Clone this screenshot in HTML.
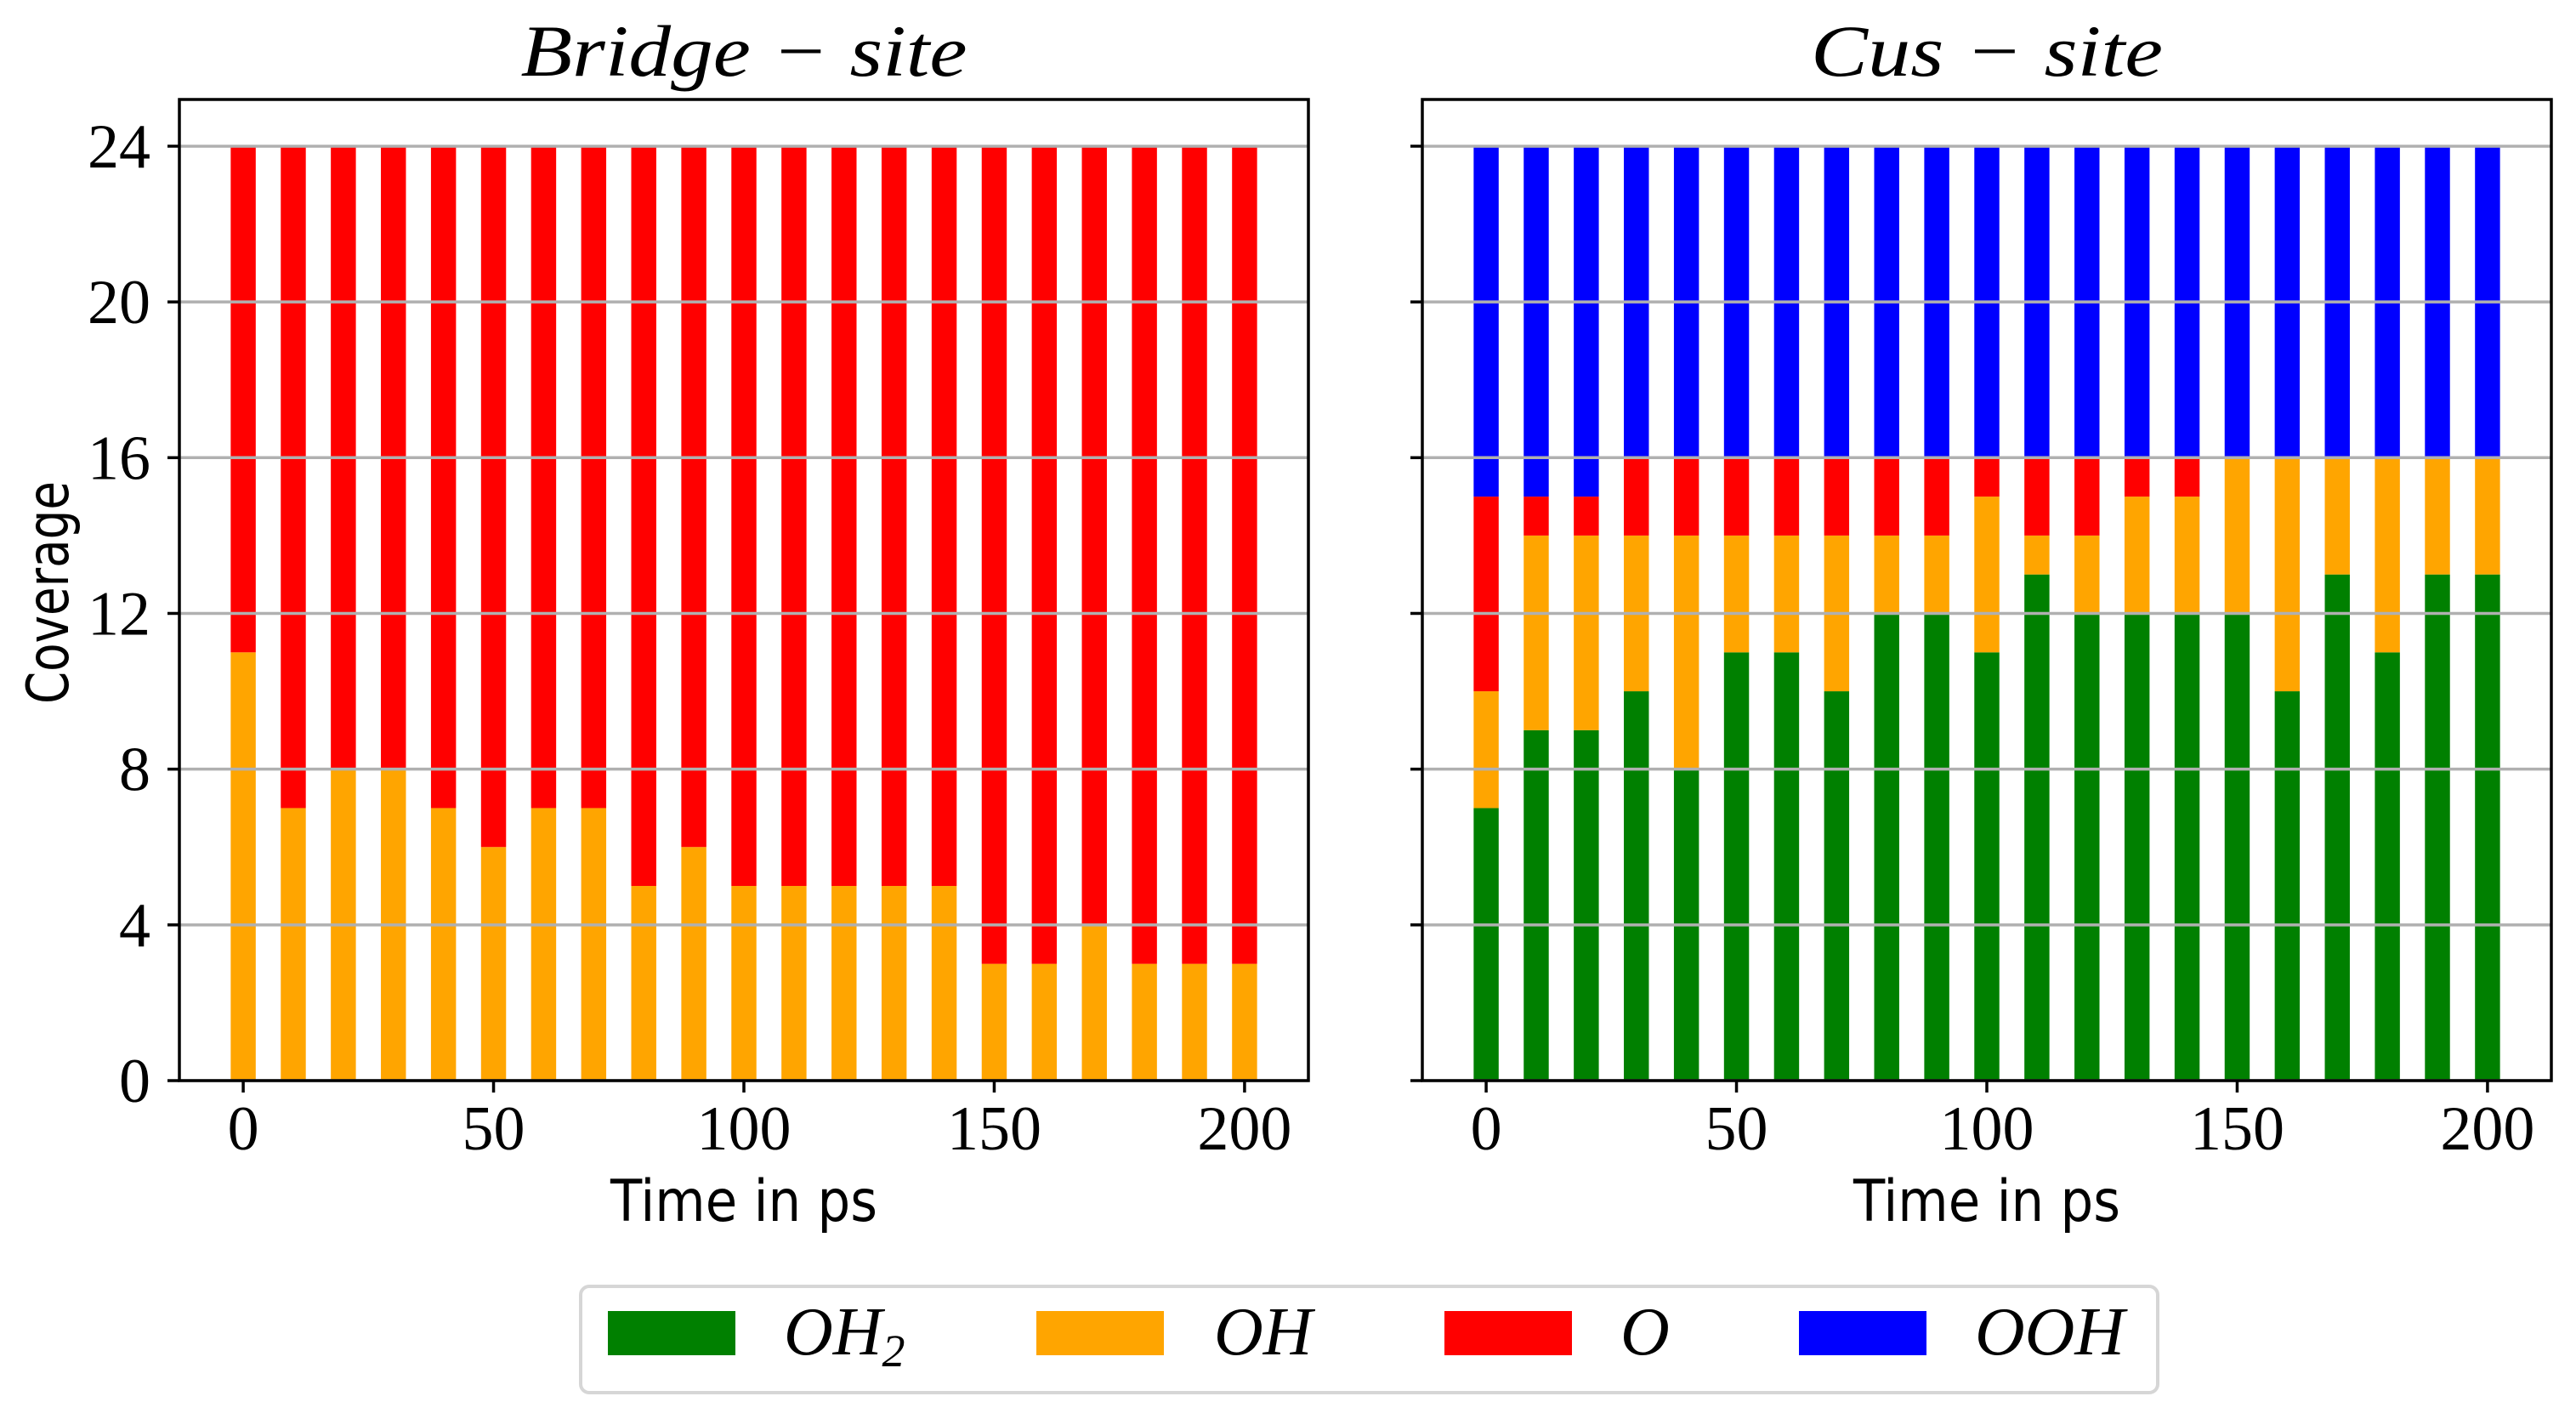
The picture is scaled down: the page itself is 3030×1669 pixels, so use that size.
<!DOCTYPE html>
<html><head><meta charset="utf-8"><style>
html,body{margin:0;padding:0;background:#fff;}
svg{display:block;}
</style></head><body>
<svg id="fig" width="3030" height="1669" viewBox="0 0 3030 1669" xmlns="http://www.w3.org/2000/svg">
<rect x="0" y="0" width="3030" height="1669" fill="#fff"/>
<g id="plots"></g>
<text x="80" y="697" transform="rotate(-90 80 697)" text-anchor="middle" font-family="'DejaVu Sans','Liberation Sans',sans-serif" font-size="68" textLength="262" lengthAdjust="spacingAndGlyphs">Coverage</text>
<g>
<rect x="683" y="1513" width="1855" height="125" rx="10" fill="#fff" stroke="#d6d6d6" stroke-width="4"/>
<g><rect x="715" y="1542" width="150" height="52" fill="#008000"/><text x="922" y="1593" font-family="'Liberation Serif',serif" font-style="italic" font-size="80">OH<tspan font-size="54" dy="14">2</tspan></text></g>
<g><rect x="1219" y="1542" width="150" height="52" fill="#ffa500"/><text x="1428" y="1593" font-family="'Liberation Serif',serif" font-style="italic" font-size="80">OH</text></g>
<g><rect x="1699" y="1542" width="150" height="52" fill="#ff0000"/><text x="1906" y="1593" font-family="'Liberation Serif',serif" font-style="italic" font-size="80">O</text></g>
<g><rect x="2116" y="1542" width="150" height="52" fill="#0000ff"/><text x="2323" y="1593" font-family="'Liberation Serif',serif" font-style="italic" font-size="80" textLength="176" lengthAdjust="spacingAndGlyphs">OOH</text></g>
</g>
</svg>
<script>
const times = [0,10,20,30,40,50,60,70,80,90,100,110,120,130,140,150,160,170,180,190,200];
// Bridge site
const bridgeOH = [11,7,8,8,7,6,7,7,5,6,5,5,5,5,5,3,3,4,3,3,3];
const bridgeO  = [13,17,16,16,17,18,17,17,19,18,19,19,19,19,19,21,21,20,21,21,21];
// Cus site
const cusOH2 = [7,9,9,10,8,11,11,10,12,12,11,13,12,12,12,12,10,13,11,13,13];
const cusOH  = [3,5,5,4,6,3,3,4,2,2,4,1,2,3,3,4,6,3,5,3,3];
const cusO   = [5,1,1,2,2,2,2,2,2,2,1,2,2,1,1,0,0,0,0,0,0];
const cusOOH = [9,9,9,8,8,8,8,8,8,8,8,8,8,8,8,8,8,8,8,8,8];
const yTicks = [0,4,8,12,16,20,24];
const xTicks = [0,50,100,150,200];
const colors = {oh2:'#008000', oh:'#ffa500', o:'#ff0000', ooh:'#0000ff'};

const NS='http://www.w3.org/2000/svg';
const root=document.getElementById('plots');
function mk(tag, attrs, parent){const e=document.createElementNS(NS,tag);for(const k in attrs)e.setAttribute(k,attrs[k]);parent.appendChild(e);return e;}

function drawPanel(id, left, right, title, titleWidth, series, showYLabels){
  const top=117, bottom=1271;
  const xmin=-12.75, xmax=212.75, ymax=25.2;
  const X=v=>left+(v-xmin)/(xmax-xmin)*(right-left);
  const Y=v=>bottom-v/ymax*(bottom-top);
  const g=mk('g',{},root);
  
  
  const bw=X(5)-X(0);
  // bars
  series.forEach(s=>{
    const sg=mk('g',{},g);
    
    
    times.forEach((t,i)=>{
      let base=0; for(const p of series){ if(p===s) break; base+=p.vals[i]; }
      const v=s.vals[i]; if(v<=0) return;
      const r=mk('rect',{x:X(t)-bw/2,y:Y(base+v),width:bw,height:Y(base)-Y(base+v),fill:colors[s.key]},sg);
      
      
    });
  });
  // grid + y ticks
  yTicks.forEach(v=>{
    const gl=mk('line',{x1:left,x2:right,y1:Y(v),y2:Y(v),stroke:'#b0b0b0','stroke-width':3.5},g);
    
    
    const tk=mk('line',{x1:left-14,x2:left,y1:Y(v),y2:Y(v),stroke:'#000','stroke-width':3.5},g);
    
    
    if(showYLabels){
      const tx=mk('text',{x:left-34,y:Y(v)+25,'text-anchor':'end','font-family':"'Liberation Serif',serif",'font-size':74},g);
      tx.textContent=v;
      
      
    }
  });
  xTicks.forEach(v=>{
    const tk=mk('line',{x1:X(v),x2:X(v),y1:bottom,y2:bottom+14,stroke:'#000','stroke-width':3.5},g);
    
    
    const tx=mk('text',{x:X(v),y:1352,'text-anchor':'middle','font-family':"'Liberation Serif',serif",'font-size':74},g);
    tx.textContent=v;
    
    
  });
  const fr=mk('rect',{x:left,y:top,width:right-left,height:bottom-top,fill:'none',stroke:'#000','stroke-width':3.5},g);
  
  
  const tt=mk('text',{x:(left+right)/2,y:89,'text-anchor':'middle','font-family':"'Liberation Serif',serif",'font-style':'italic','font-size':86,textLength:titleWidth,lengthAdjust:'spacingAndGlyphs'},g);
  tt.textContent=title;
  
  
  const xl=mk('text',{x:(left+right)/2,y:1436,'text-anchor':'middle','font-family':"'DejaVu Sans','Liberation Sans',sans-serif",'font-size':68,textLength:314,lengthAdjust:'spacingAndGlyphs'},g);
  xl.textContent='Time in ps';
  
  
}

drawPanel('bridge', 211, 1539, 'Bridge \u2212 site', 525,
  [{key:'oh2',vals:times.map(()=>0)},{key:'oh',vals:bridgeOH},{key:'o',vals:bridgeO}], true);
drawPanel('cus', 1673, 3001, 'Cus \u2212 site', 414,
  [{key:'oh2',vals:cusOH2},{key:'oh',vals:cusOH},{key:'o',vals:cusO},{key:'ooh',vals:cusOOH}], false);
</script>
</body></html>
